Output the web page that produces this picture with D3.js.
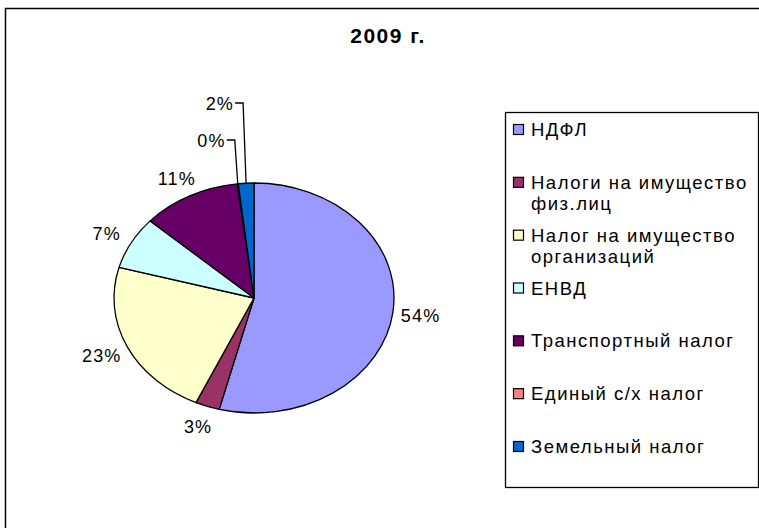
<!DOCTYPE html>
<html>
<head>
<meta charset="utf-8">
<script src="https://cdnjs.cloudflare.com/ajax/libs/d3/7.8.5/d3.min.js"></script>
<style>
  body { margin: 0; background: #fff; }
  text { font-family: "Liberation Sans", Arial, sans-serif; fill: #000; }
</style>
</head>
<body>
<svg id="chart" width="759" height="528"></svg>
<script>
// chart data
const title = '2009 г.'
const categories = [
  'НДФЛ',
  'Налоги на имущество физ.лиц',
  'Налог на имущество организаций',
  'ЕНВД',
  'Транспортный налог',
  'Единый с/х налог',
  'Земельный налог'
]
const legendLines = [
  ['НДФЛ'],
  ['Налоги на имущество', 'физ.лиц'],
  ['Налог на имущество', 'организаций'],
  ['ЕНВД'],
  ['Транспортный налог'],
  ['Единый с/х налог'],
  ['Земельный налог']
]
const values = [54.0, 2.8, 22.5, 7.4, 11.4, 0.1, 1.8]
const colors = ['#9999FF', '#993366', '#FFFFCC', '#CCFFFF', '#660066', '#FF8080', '#0066CC']

const svg = d3.select('#chart')
const W = 759, H = 528
const cx = 254, cy = 298, rx = 140, ry = 115
const ratio = ry / rx

// outer chart border (right / bottom fall outside the picture)
svg.append('rect')
  .attr('x', 5.5).attr('y', 8.5)
  .attr('width', W + 20).attr('height', H + 20)
  .attr('fill', 'none').attr('stroke', '#000').attr('stroke-width', 1.5)

svg.append('text')
  .attr('x', 388).attr('y', 43)
  .attr('text-anchor', 'middle')
  .style('font-size', '21px').style('font-weight', 'bold').style('letter-spacing', '1.5px')
  .text(title)

const total = d3.sum(values)
const pct = v => Math.round(v / total * 100) + '%'

const pie = d3.pie().sort(null).value(d => d)
const arcs = pie(values)
const arc = d3.arc().innerRadius(0).outerRadius(rx)

const g = svg.append('g')
  .attr('transform', `translate(${cx},${cy}) scale(1,${ratio})`)

g.selectAll('path')
  .data(arcs)
  .enter()
  .append('path')
  .attr('d', arc)
  .attr('fill', (d, i) => colors[i])
  .attr('stroke', '#000')
  .attr('stroke-width', 1.3)
  .attr('vector-effect', 'non-scaling-stroke')
  .attr('stroke-linejoin', 'round')

// point on the ellipse edge at an angle (0 = 12 o'clock, clockwise)
function edge (a, r) {
  return [cx + r * Math.sin(a), cy - r * Math.cos(a) * ratio]
}

const labels = svg.append('g').style('font-size', '18px').style('letter-spacing', '1.2px')
const isThin = d => d.endAngle - d.startAngle < 0.15

arcs.forEach((d, i) => {
  if (isThin(d)) return
  const mid = (d.startAngle + d.endAngle) / 2
  const p = edge(mid, rx + 14)
  const s = Math.sin(mid), c = Math.cos(mid)
  labels.append('text')
    .attr('x', p[0] + s * 14)
    .attr('y', p[1] - c * 9 + 7)
    .attr('text-anchor', 'middle')
    .text(pct(d.value))
})

// leader lines for the two thin slices at the top
const thin = arcs.filter(isThin)
thin.forEach((d, k) => {
  const mid = (d.startAngle + d.endAngle) / 2
  const end = edge(mid, rx)
  const ly = cy - ry - 43 - k * 37
  const elbowX = end[0] - 3
  const textX = elbowX - 8
  svg.append('polyline')
    .attr('points', [[textX, ly], [elbowX, ly], end].map(p => p.join(',')).join(' '))
    .attr('fill', 'none').attr('stroke', '#000').attr('stroke-width', 1.3)
  labels.append('text')
    .attr('x', textX - 1).attr('y', ly + 7)
    .attr('text-anchor', 'end')
    .text(pct(d.value))
})

// legend
const lg = svg.append('g')
lg.append('rect')
  .attr('x', 505.5).attr('y', 112.5)
  .attr('width', 253).attr('height', 375)
  .attr('fill', '#fff').attr('stroke', '#000').attr('stroke-width', 1.3)

const ly = d3.scalePoint().domain(categories).range([129, 446])

const item = lg.selectAll('g.item')
  .data(categories)
  .enter()
  .append('g')
  .attr('class', 'item')
  .attr('transform', d => `translate(0,${ly(d)})`)

item.append('rect')
  .attr('x', 513.5).attr('y', -4.5)
  .attr('width', 10).attr('height', 10)
  .attr('fill', (d, i) => colors[i])
  .attr('stroke', '#000').attr('stroke-width', 1.2)

item.append('text')
  .style('font-size', '18.5px').style('letter-spacing', '1.5px')
  .selectAll('tspan')
  .data((d, i) => legendLines[i])
  .enter()
  .append('tspan')
  .attr('x', 531)
  .attr('dy', (d, j) => j === 0 ? '0.38em' : '21')
  .text(d => d)
</script>
</body>
</html>
